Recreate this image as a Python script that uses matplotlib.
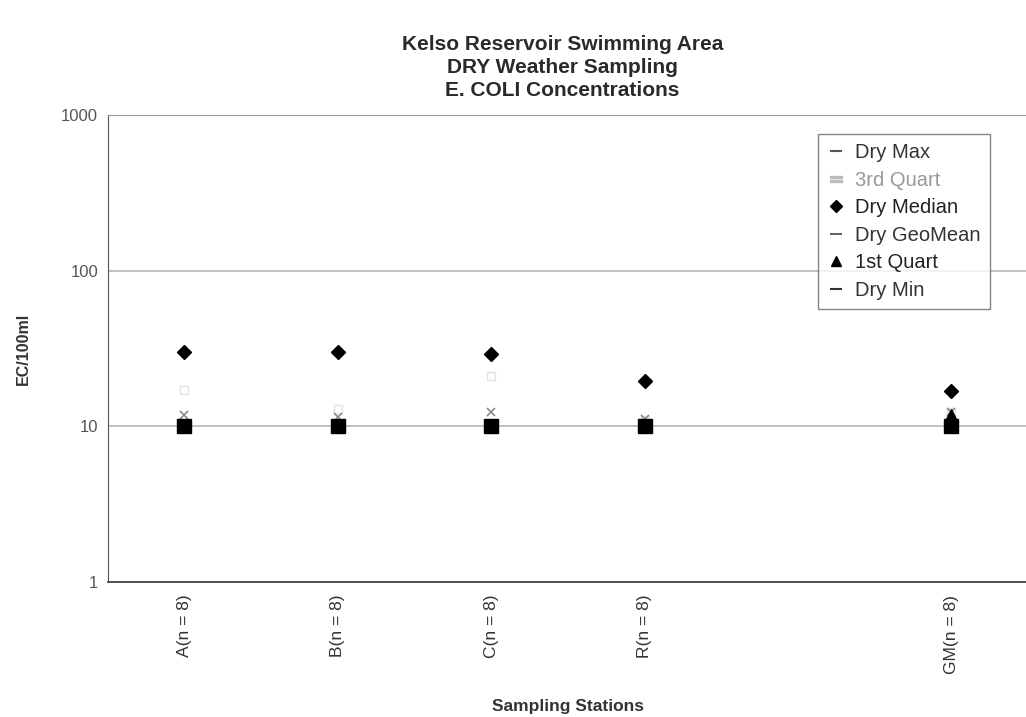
import numpy as np
import matplotlib
matplotlib.use("Agg")
import matplotlib.pyplot as plt
from matplotlib.lines import Line2D

plt.rcParams['font.family'] = ['Liberation Sans', 'DejaVu Sans']

# Stations (blank slot keeps GM separated from the others)
stations = ["A(n = 8)", "B(n = 8)", "C(n = 8)", "R(n = 8)", "", "GM(n = 8)"]

# E. coli summary stats per station, EC/100ml (dry weather)
dry_max = [30, 30, 29, 19.5, np.nan, 16.8]
third_quart = [17, 13, 21, 11, np.nan, 12.3]
dry_median = [30, 30, 29, 19.5, np.nan, 16.8]
dry_geomean = [11.8, 11.5, 12.3, 11.2, np.nan, 12.3]
first_quart = [10, 10, 10, 10, np.nan, 11.8]
dry_min = [10, 10, 10, 10, np.nan, 10]

fig = plt.figure(figsize=(10.26, 7.17), dpi=100)
ax = fig.add_axes([0.105, 0.188, 0.897, 0.652])

x = np.arange(len(stations))

ax.plot(x, dry_max, ls='none', marker='_', ms=9, mew=1.5, color='#888888', zorder=3)
ax.plot(x, third_quart, ls='none', marker='s', ms=6, mfc='none', mec='#e2e2e2', mew=1.0, zorder=3)
ax.plot(x, dry_median, ls='none', marker='D', ms=7, color='black', zorder=4)
ax.plot(x, dry_geomean, ls='none', marker='x', ms=6, mew=1.2, color='#8a8a8a', zorder=4)
ax.plot(x, first_quart, ls='none', marker='^', ms=8, color='black', zorder=4)
ax.plot(x, dry_min, ls='none', marker='s', ms=9.5, color='black', zorder=5)

ax.set_yscale('log')
ax.set_ylim(1, 1000)
ax.set_xlim(-0.5, len(stations) - 0.5)

ax.set_yticks([1, 10, 100, 1000])
ax.set_yticklabels(['1', '10', '100', '1000'])
ax.yaxis.set_minor_locator(matplotlib.ticker.NullLocator())
ax.set_xticks(x)
ax.set_xticklabels(stations, rotation=90, fontsize=12.5, color='#333333')
ax.tick_params(axis='y', length=0, pad=7, labelsize=12, labelcolor='#555555')
ax.tick_params(axis='x', length=0, pad=9)

ax.grid(axis='y', which='major', color='#b5b5b5', lw=1.2)
ax.set_axisbelow(True)
ax.spines['right'].set_visible(False)
ax.spines['top'].set_color('#999999')
ax.spines['left'].set_color('#555555')
ax.spines['bottom'].set_color('#444444')
ax.spines['bottom'].set_linewidth(1.3)

ax.set_ylabel('EC/100ml', fontsize=11.5, fontweight='bold', color='#333333', labelpad=22)
ax.set_xlabel('Sampling Stations', fontsize=12.5, fontweight='bold', color='#333333', labelpad=18)

fig.text(0.548, 0.906, 'Kelso Reservoir Swimming Area\nDRY Weather Sampling\nE. COLI Concentrations',
         ha='center', va='center', fontsize=15, fontweight='bold', color='#2a2a2a',
         linespacing=1.25)

handles = [
    Line2D([], [], ls='none', marker='_', ms=9, mew=1.5, color='#555555'),
    Line2D([], [], ls='none', marker='$=$', ms=9, color='#bbbbbb'),
    Line2D([], [], ls='none', marker='D', ms=6, color='black'),
    Line2D([], [], ls='none', marker='_', ms=9, mew=1.5, color='#666666'),
    Line2D([], [], ls='none', marker='^', ms=7, color='black'),
    Line2D([], [], ls='none', marker='_', ms=9, mew=1.5, color='#333333'),
]
labels = ['Dry Max', '3rd Quart', 'Dry Median', 'Dry GeoMean', '1st Quart', 'Dry Min']
leg = ax.legend(handles, labels, loc='upper left', bbox_to_anchor=(0.772, 0.958),
                fontsize=14.5, labelspacing=0.42, handlelength=0.9, handletextpad=0.5,
                borderpad=0.45, borderaxespad=0.0, frameon=True, fancybox=False,
                edgecolor='#666666')
for t, c in zip(leg.get_texts(), ['#333333', '#999999', '#222222', '#333333', '#222222', '#333333']):
    t.set_color(c)
leg.get_frame().set_linewidth(1.0)

fig.savefig('out.png', dpi=100)
